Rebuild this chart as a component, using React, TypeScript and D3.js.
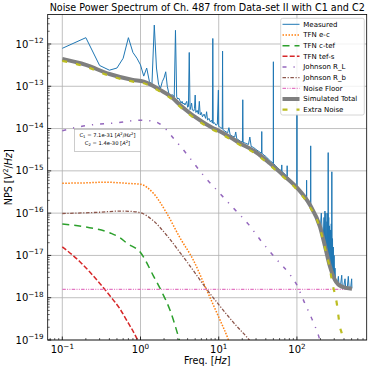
import React from 'react';
import * as d3 from 'd3';

type Pt = [number, number];

// ---------- data (frequency Hz, PSD V^2/Hz) ----------
const measured: Pt[] = [
  [0.1, 7.9e-13], [0.2, 1.41e-12], [0.3, 3.1e-13], [0.4, 2.4e-13], [0.5, 2.7e-13],
  [0.6, 4.6e-13], [0.7, 1.41e-12], [0.8, 6.3e-13], [0.9, 4.6e-13], [1.0, 3.2e-13],
  [1.1, 1.74e-13], [1.2, 2.7e-13], [1.3, 1.29e-13], [1.4, 1.12e-13], [1.5, 2.8e-12],
  [1.6, 2.7e-13], [1.7, 1.12e-13], [1.8, 8.9e-14], [1.9, 1.29e-13], [2.0, 1.58e-13],
  [2.1, 2.2e-13], [2.2, 1.0e-13], [2.3, 6.8e-14], [2.4, 5.6e-14], [2.5, 6.3e-14],
  [2.6, 6.2e-14], [2.7, 5.6e-14], [2.8, 2.1e-12], [2.9, 5.6e-14], [3.0, 5.0e-14],
  [3.1, 5.2e-14], [3.2, 4.5e-14], [3.3, 4.0e-14], [3.4, 4.4e-14], [3.5, 3.8e-14],
  [3.6, 4.0e-14], [3.7, 3.6e-14], [3.9, 4.4e-14], [4.0, 3.2e-14], [4.1, 3.3e-14],
  [4.2, 6.3e-13], [4.3, 2.8e-14], [4.4, 3.3e-14], [4.5, 4.0e-14], [4.6, 2.75e-14],
  [4.8, 2.6e-14], [4.9, 3.0e-14], [5.0, 6.2e-14], [5.1, 2.4e-14], [5.3, 2.7e-14],
  [5.5, 2.2e-14], [5.65, 4.4e-14], [5.8, 2.1e-14], [6.0, 2.4e-14], [6.2, 1.9e-14],
  [6.5, 2.2e-14], [6.8, 1.74e-14], [7.0, 2.5e-14], [7.2, 1.58e-14], [7.5, 1.74e-14],
  [7.8, 1.45e-14], [8.1, 1.58e-14], [8.3, 1.35e-14], [8.4, 1.35e-12], [8.5, 1.32e-14],
  [8.8, 1.38e-14], [9.2, 1.2e-14], [9.6, 1.26e-14], [9.9, 8.1e-14], [10.0, 1.12e-14],
  [10.5, 1.07e-14], [11.1, 1.0e-14], [11.2, 6.8e-13], [11.3, 9.5e-15], [12, 8.7e-15],
  [13, 7.9e-15], [13.5, 1.05e-14], [14, 7.1e-15], [15, 6.6e-15], [16, 6.3e-15],
  [16.5, 8.3e-15], [17, 5.75e-15], [18, 5.4e-15], [19, 5.0e-15], [20.1, 4.8e-15],
  [20.3, 4.8e-14], [20.5, 4.7e-15], [22, 4.5e-15], [24, 4.2e-15], [25, 6.3e-15],
  [26, 3.8e-15], [28, 3.55e-15], [30, 3.2e-15], [32, 2.95e-15], [35.3, 2.6e-15],
  [35.5, 8.5e-15], [35.7, 2.6e-15], [38, 2.35e-15], [40, 2.2e-15], [43, 1.9e-15],
  [46, 1.7e-15], [49.8, 1.51e-15], [50, 3.8e-13], [50.2, 1.48e-15], [53, 1.35e-15],
  [56, 1.2e-15], [60, 1.07e-15], [63.8, 1.0e-15], [64, 1.38e-15], [64.2, 9.8e-16],
  [68, 8.9e-16], [72, 7.9e-16], [74.8, 7.4e-16], [75, 1.32e-15], [75.2, 7.4e-16],
  [80, 6.6e-16], [85, 5.75e-16], [90, 5.2e-16], [95, 4.8e-16], [99.9, 4.4e-16],
  [100, 2.2e-14], [100.1, 4.4e-16], [108, 3.55e-16], [116, 2.95e-16], [125, 2.4e-16],
  [132.9, 2.1e-16], [133, 6.0e-16], [133.1, 2.1e-16], [140, 1.86e-16], [149.9, 1.66e-16],
  [150, 3.9e-15], [150.1, 1.66e-16], [160, 1.26e-16], [170, 9.5e-17], [180, 7.6e-17],
  [190, 6.0e-17], [200, 5.0e-17], [205, 1.0e-16], [210, 3.8e-17], [218, 3.0e-17],
  [222, 7.9e-17], [224, 2.2e-17], [228, 1.12e-16], [231, 1.58e-17], [235, 1.0e-16],
  [238, 1.26e-17], [242, 6.3e-17], [245, 1.05e-17], [248, 1.0e-16], [250, 8.9e-18],
  [251, 2.7e-15], [252, 8.5e-18], [255, 7.9e-17], [258, 7.1e-18], [261, 5.0e-17],
  [264, 6.0e-18], [268, 4.0e-17], [271, 5.2e-18], [275, 5.6e-17], [278, 4.7e-18],
  [279.5, 9.5e-16], [281, 4.4e-18], [285, 2.5e-17], [288, 3.8e-18], [292, 1.58e-17],
  [295, 3.3e-18], [299, 1.0e-17], [303, 3.0e-18], [307, 5.0e-18], [311, 2.8e-18],
  [320, 2.4e-18], [330, 2.2e-18], [339, 3.2e-18], [345, 2.0e-18], [360, 1.9e-18],
  [374, 3.4e-18], [380, 1.82e-18], [395, 1.78e-18], [412, 2.8e-18], [420, 1.7e-18],
  [440, 1.7e-18], [454, 3.2e-18], [465, 1.66e-18], [485, 1.62e-18], [501, 2.8e-18],
  [505, 1.66e-18],
];

const tfnEC: Pt[] = [
  [0.1, 5.1e-16], [0.2, 5.2e-16], [0.35, 5.4e-16], [0.55, 5.2e-16], [0.75, 5.0e-16],
  [1.0, 4.8e-16], [1.46, 2.95e-16], [2.16, 1.0e-16], [3.2, 2.6e-17], [4.73, 7.8e-18],
  [7.03, 1.5e-18], [10.4, 2.95e-19], [13.3, 1.0e-19], [15, 5.0e-20],
];

const tfnCTef: Pt[] = [
  [0.1, 5.5e-17], [0.2, 4.7e-17], [0.41, 3.4e-17], [0.55, 2.6e-17], [0.67, 1.95e-17],
  [1.0, 1.17e-17], [1.46, 3.3e-18], [1.87, 1.38e-18], [2.38, 5.1e-19], [3.05, 1.2e-19],
  [3.3, 7.1e-20],
];

const tfnTefS: Pt[] = [
  [0.1, 1.6e-17], [0.168, 7.1e-18], [0.3, 2.2e-18], [0.447, 8.9e-19], [0.547, 5.4e-19],
  [0.66, 3.0e-19], [0.89, 1.12e-19], [1.0, 7.0e-20],
];

const johnsonRL: Pt[] = [
  [0.1, 8.9e-15], [0.185, 1.15e-14], [0.52, 1.38e-14], [1.0, 1.58e-14], [1.5, 1.48e-14],
  [2.0, 1.07e-14], [2.7, 5.6e-15], [3.5, 3.2e-15], [4.5, 1.78e-15], [6.35, 7.9e-16],
  [9.9, 3.2e-16], [15.4, 1.32e-16], [23.9, 5.5e-17], [35.5, 2.1e-17], [53.6, 8.5e-18],
  [81.6, 3.5e-18], [97, 2.2e-18], [126, 7.4e-19], [164, 2.5e-19], [186, 1.38e-19],
  [200, 8.9e-20], [250, 2.5e-20],
];

const johnsonRb: Pt[] = [
  [0.1, 9.8e-17], [0.3, 1.05e-16], [0.55, 1.12e-16], [0.75, 1.1e-16], [1.0, 1.02e-16],
  [1.46, 6.6e-17], [2.16, 3.0e-17], [3.2, 1.17e-17], [4.73, 4.4e-18], [7.03, 1.58e-18],
  [10.4, 6.3e-19], [15.4, 2.6e-19], [24.6, 1.0e-19], [30, 6.3e-20],
];

const noiseFloor: Pt[] = [[0.1, 1.58e-18], [505, 1.58e-18]];

const simulatedTotal: Pt[] = [
  [0.1, 4.4e-13], [0.2, 3.2e-13], [0.4, 1.95e-13], [0.8, 1.41e-13], [1.1, 1.29e-13],
  [1.8, 8.1e-14], [2.6, 5.2e-14], [3.2, 3.6e-14], [4.3, 2.3e-14], [5.2, 1.78e-14],
  [8.5, 1.02e-14], [10, 8.9e-15], [14, 6.2e-15], [18.7, 4.5e-15], [30, 2.75e-15],
  [45, 1.51e-15], [67, 7.9e-16], [100, 4.0e-16], [147, 1.55e-16], [197, 4.8e-17],
  [229, 1.62e-17], [265, 5.4e-18], [307, 2.6e-18], [374, 1.82e-18], [505, 1.62e-18],
];

const extraNoise: Pt[] = [
  [0.1, 4.0e-13], [0.2, 2.9e-13], [0.4, 1.78e-13], [0.8, 1.29e-13], [1.1, 1.18e-13],
  [1.8, 7.4e-14], [2.6, 4.75e-14], [3.2, 3.3e-14], [4.3, 2.1e-14], [5.2, 1.62e-14],
  [8.5, 9.3e-15], [10, 8.1e-15], [14, 5.6e-15], [18.7, 4.1e-15], [30, 2.5e-15],
  [45, 1.37e-15], [67, 7.2e-16], [100, 3.6e-16], [147, 1.4e-16], [197, 4.4e-17],
  [229, 1.45e-17], [265, 4.6e-18], [279, 2.6e-18], [323, 7.4e-19], [356, 2.0e-19],
  [374, 1.45e-19], [420, 5.0e-20],
];

const xTickExps = [-1, 0, 1, 2];
const yTickExps = [-19, -18, -17, -16, -15, -14, -13, -12];

const titleText = 'Noise Power Spectrum of Ch. 487 from Data-set II with C1 and C2';

// ---------- layout ----------
const W = 381;
const H = 370;
const P = { l: 47.7, r: 366.7, t: 14.5, b: 340 };

const x = d3.scaleLog().domain([0.06506, 780]).range([P.l, P.r]);
const y = d3.scaleLog().domain([1e-19, 4.98e-12]).range([P.b, P.t]);

type Series = {
  name: string; data: Pt[]; color: string; width: number; dash?: string; smooth: boolean;
};

const series: Series[] = [
  { name: 'Measured', data: measured, color: '#1f77b4', width: 1, smooth: false },
  { name: 'TFN e-c', data: tfnEC, color: '#ff7f0e', width: 1.5, dash: '1.5,1.5', smooth: true },
  { name: 'TFN c-tef', data: tfnCTef, color: '#2ca02c', width: 1.5, dash: '7,5', smooth: true },
  { name: 'TFN tef-s', data: tfnTefS, color: '#d62728', width: 1.5, dash: '5,2.2', smooth: true },
  { name: 'Johnson R_L', data: johnsonRL, color: '#9467bd', width: 1.5, dash: '4,7,1.2,7', smooth: true },
  { name: 'Johnson R_b', data: johnsonRb, color: '#8c564b', width: 1.3, dash: '3.5,1.6,1.2,1.6', smooth: true },
  { name: 'Noise Floor', data: noiseFloor, color: '#e377c2', width: 1.3, dash: '3.5,1.3,1,1.3,1,1.3', smooth: false },
  { name: 'Simulated Total', data: simulatedTotal, color: '#7f7f7f', width: 4, smooth: true },
  { name: 'Extra Noise', data: extraNoise, color: '#bcbd22', width: 2.2, dash: '5,9', smooth: true },
];

function expLabel(e: number) {
  return e < 0 ? '\u2212' + Math.abs(e) : String(e);
}

export default function App() {
  const minorX: number[] = [];
  for (let e = -2; e <= 3; e++) for (let m = 2; m <= 9; m++) {
    const v = m * Math.pow(10, e);
    if (v > x.domain()[0] && v < x.domain()[1]) minorX.push(v);
  }
  const minorY: number[] = [];
  for (let e = -20; e <= -11; e++) for (let m = 2; m <= 9; m++) {
    const v = m * Math.pow(10, e);
    if (v > y.domain()[0] && v < y.domain()[1]) minorY.push(v);
  }
  const majorX = xTickExps.map((e) => Math.pow(10, e));
  const majorY = yTickExps.map((e) => Math.pow(10, e));

  const mkLine = (s: Series) =>
    d3.line<Pt>()
      .x((d) => x(d[0]))
      .y((d) => y(d[1]))
      .curve(s.smooth ? d3.curveMonotoneX : d3.curveLinear)(s.data) || '';

  const legX = 280.7, legY = 18.3, legW = 83.6, legH = 96.7, rowH = 10.67;

  return (
    <svg width={W} height={H} style={{ position: 'absolute', left: 0, top: 0, background: '#fff' }}
      fontFamily="'DejaVu Sans', sans-serif">
      <defs>
        <clipPath id="plotclip">
          <rect x={P.l} y={P.t} width={P.r - P.l} height={P.b - P.t} />
        </clipPath>
      </defs>
      <rect x={0} y={0} width={W} height={H} fill="#fff" />
      {/* grid */}
      <g stroke="#b0b0b0" strokeWidth={0.8}>
        {majorX.map((v, i) => <line key={'gx' + i} x1={x(v)} x2={x(v)} y1={P.t} y2={P.b} />)}
        {majorY.map((v, i) => <line key={'gy' + i} x1={P.l} x2={P.r} y1={y(v)} y2={y(v)} />)}
      </g>
      {/* series */}
      <g clipPath="url(#plotclip)" fill="none">
        {series.map((s) => (
          <path key={s.name} d={mkLine(s)} stroke={s.color} strokeWidth={s.width}
            strokeDasharray={s.dash} strokeLinejoin="round" />
        ))}
      </g>
      {/* annotation box */}
      <g>
        <rect x={74.3} y={129.5} width={66.5} height={22} fill="#fff" stroke="#aaaaaa" strokeWidth={0.6} />
        <text x={107.5} y={137.3} fontSize={5.2} textAnchor="middle" fill="#000">
          C<tspan fontSize={3.8} dy={1}>1</tspan><tspan dy={-1}> = 7.1e-31 [</tspan>
          <tspan fontStyle="italic">A</tspan><tspan fontSize={3.8} dy={-2}>2</tspan>
          <tspan dy={2}>/</tspan><tspan fontStyle="italic">Hz</tspan>
          <tspan fontSize={3.8} dy={-2}>2</tspan><tspan dy={2}>]</tspan>
        </text>
        <text x={107.5} y={145} fontSize={5.2} textAnchor="middle" fill="#000">
          C<tspan fontSize={3.8} dy={1}>2</tspan><tspan dy={-1}> = 1.4e-30 [</tspan>
          <tspan fontStyle="italic">A</tspan><tspan fontSize={3.8} dy={-2}>2</tspan>
          <tspan dy={2}>]</tspan>
        </text>
      </g>
      {/* ticks */}
      <g stroke="#000" strokeWidth={0.8}>
        {majorX.map((v, i) => <line key={'tx' + i} x1={x(v)} x2={x(v)} y1={P.b} y2={P.b - 3.5} />)}
        {minorX.map((v, i) => <line key={'mx' + i} x1={x(v)} x2={x(v)} y1={P.b} y2={P.b - 2} strokeWidth={0.6} />)}
        {majorY.map((v, i) => <line key={'ty' + i} x1={P.l} x2={P.l + 3.5} y1={y(v)} y2={y(v)} />)}
        {minorY.map((v, i) => <line key={'my' + i} x1={P.l} x2={P.l + 2} y1={y(v)} y2={y(v)} strokeWidth={0.6} />)}
      </g>
      {/* spines */}
      <rect x={P.l} y={P.t} width={P.r - P.l} height={P.b - P.t} fill="none" stroke="#000" strokeWidth={0.8} />
      {/* tick labels */}
      <g fill="#000">
        {xTickExps.map((e, i) => (
          <text key={'lx' + i} x={x(Math.pow(10, e))} y={353.3} fontSize={10} textAnchor="middle">
            10<tspan fontSize={7.2} dy={-4.6}>{expLabel(e)}</tspan>
          </text>
        ))}
        {yTickExps.map((e, i) => (
          <text key={'ly' + i} x={43.5} y={y(Math.pow(10, e)) + 3.6} fontSize={10} textAnchor="end">
            10<tspan fontSize={7.2} dy={-4.6}>{expLabel(e)}</tspan>
          </text>
        ))}
      </g>
      {/* axis labels */}
      <text x={(P.l + P.r) / 2} y={363.5} fontSize={9.6} textAnchor="middle">
        Freq. [<tspan fontStyle="italic">Hz</tspan>]
      </text>
      <text transform={`translate(11.5, ${(P.t + P.b) / 2}) rotate(-90)`} fontSize={9.6} textAnchor="middle">
        NPS [<tspan fontStyle="italic">V</tspan><tspan fontSize={6.8} dy={-4}>2</tspan>
        <tspan dy={4}>/</tspan><tspan fontStyle="italic">Hz</tspan>]
      </text>
      {/* title */}
      <text x={(P.l + P.r) / 2} y={11} fontSize={9.6} textAnchor="middle">{titleText}</text>
      {/* legend */}
      <g>
        <rect x={legX} y={legY} width={legW} height={legH} rx={2} fill="#fff" fillOpacity={0.8}
          stroke="#cccccc" strokeWidth={0.8} />
        {series.map((s, i) => {
          const cy = legY + 6 + i * rowH;
          return (
            <g key={'lg' + i}>
              <line x1={282.5} x2={299.5} y1={cy} y2={cy} stroke={s.color}
                strokeWidth={s.width} strokeDasharray={s.dash} />
              <text x={303.3} y={cy + 2.5} fontSize={7}>{s.name}</text>
            </g>
          );
        })}
      </g>
    </svg>
  );
}
